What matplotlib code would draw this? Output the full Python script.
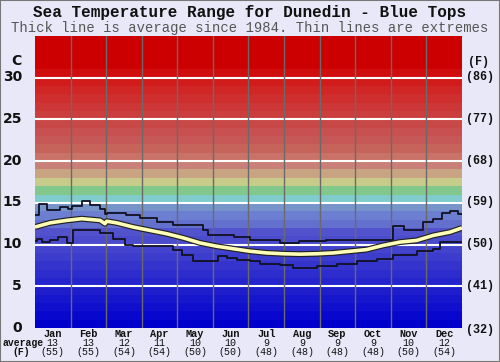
import matplotlib
matplotlib.use("Agg")
import matplotlib.pyplot as plt
from matplotlib.patches import Rectangle
import numpy as np

# ---------------- data ----------------
months = ["Jan", "Feb", "Mar", "Apr", "May", "Jun", "Jul", "Aug", "Sep", "Oct", "Nov", "Dec"]
avg_c = [13, 13, 12, 11, 10, 10, 9, 9, 9, 9, 10, 12]
avg_f = [55, 55, 54, 54, 50, 50, 48, 48, 48, 48, 50, 54]

# maximum line: step start day, temperature (C)
max_day = [0, 3, 10, 21, 28.5, 32, 40, 47, 55.6, 59.8, 61.3, 78, 90, 104, 118, 144, 148,
           170, 184, 209, 226, 249, 275, 306, 315, 332, 340.5, 347.6, 355, 362]
max_temp = [13.5, 14.9, 14.2, 14.5, 14.3, 14.6, 15.2, 14.7, 14.3, 13.7, 13.8, 13.6, 13.2,
            12.7, 12.4, 11.7, 11.2, 10.9, 10.5, 10.2, 10.4, 10.6, 10.5, 12.2, 11.8, 12.7,
            13.1, 13.8, 14.0, 13.7]

# minimum line
min_day = [0, 2, 5.7, 12.8, 19.9, 27.1, 32.2, 38.5, 55.6, 66.9, 76.9, 84, 118.2, 125.3,
           135.3, 156.7, 163.8, 172.4, 183.8, 192.3, 209.4, 220.8, 240.8, 257.9, 275,
           292.1, 306.3, 326.3, 340.5, 346.2]
min_temp = [10.4, 10.7, 10.3, 10.5, 10.9, 10.2, 11.8, 11.7, 11.4, 10.7, 10.0, 9.8, 9.3,
            8.7, 8.0, 8.6, 8.4, 8.1, 8.0, 7.7, 7.5, 7.25, 7.4, 7.7, 8.0, 8.3, 8.7, 9.2,
            9.5, 10.3]

# average line
avg_day = [0, 12.8, 27.1, 39.9, 55.6, 59.8, 61.3, 69.8, 84, 98.3, 112.6, 126.8, 141,
           155.3, 169.5, 183.8, 198, 212.3, 226.5, 240.8, 255, 269.3, 283.5, 297.7, 312,
           326.3, 340.5, 354.8, 365]
avg_temp = [12.1, 12.6, 12.9, 13.1, 12.9, 12.5, 12.8, 12.6, 12.1, 11.7, 11.3, 10.8, 10.2,
            9.8, 9.5, 9.2, 9.0, 8.9, 8.85, 8.9, 9.0, 9.2, 9.4, 9.9, 10.3, 10.5, 11.1,
            11.5, 12.0]

left_ticks = [0, 5, 10, 15, 20, 25, 30]
right_labels = ["(32)", "(41)", "(50)", "(59)", "(68)", "(77)", "(86)"]

# ---------------- style ----------------
band_colors = {}
for i in range(15):
    v = int(7.5 * i)
    band_colors[i] = (v, v, 205)
band_colors[12] = (100, 112, 206)
band_colors[13] = (108, 126, 208)
band_colors[14] = (118, 148, 202)
band_colors.update({
    15: (128, 204, 204), 16: (130, 200, 140), 17: (200, 204, 138), 18: (200, 164, 130),
    19: (200, 128, 120), 20: (200, 114, 104), 21: (198, 100, 92), 22: (198, 88, 88),
    23: (200, 80, 80), 24: (200, 72, 72), 25: (202, 62, 62), 26: (204, 54, 54),
    27: (206, 46, 46), 28: (208, 38, 38), 29: (210, 28, 28), 30: (208, 14, 14),
})
for i in range(31, 35):
    band_colors[i] = (204, 0, 0)

bg = "#e8e8f8"
mono = ["Liberation Mono", "DejaVu Sans Mono"]

fig = plt.figure(figsize=(5, 3.62), dpi=100, facecolor=bg)
ax = fig.add_axes([35 / 500, 1 - 328 / 362, 427 / 500, 292 / 362])
ax.set_xlim(0, 365)
ax.set_ylim(0, 35)

for i in range(35):
    c = tuple(x / 255 for x in band_colors[i])
    ax.axhspan(i, i + 1, color=c, lw=0, zorder=0)

for t in range(5, 35, 5):
    ax.axhline(t, color="white", lw=1.5, zorder=1)

month_edges = np.linspace(0, 365, 13)
for xe in month_edges[1:-1]:
    ax.axvline(xe, color="#6a6a6a", lw=1.0, zorder=1)

ax.step(max_day + [365], max_temp + [max_temp[-1]], where="post", color="#111122", lw=1.3, zorder=3)
ax.step(min_day + [365], min_temp + [min_temp[-1]], where="post", color="#111122", lw=1.3, zorder=3)
ax.plot(avg_day, avg_temp, color="#222222", lw=4.3, zorder=4, solid_capstyle="butt")
ax.plot(avg_day, avg_temp, color="#ffffb8", lw=2.6, zorder=5, solid_capstyle="butt")

for s in ax.spines.values():
    s.set_visible(False)
ax.set_xticks([])
ax.set_yticks([])

# left axis labels
for t in left_ticks:
    y = 1 - (328 - t * 8.37) / 362
    fig.text(22 / 500, y, str(t), ha="right", va="center", fontsize=10, fontweight="bold",
             color="#111111", family="DejaVu Sans")
fig.text(22 / 500, 1 - 61 / 362, "C", ha="right", va="center", fontsize=10, fontweight="bold",
         color="#111111", family="DejaVu Sans")

# right axis labels
for t, lab in zip(left_ticks, right_labels):
    y = 1 - (328 - t * 8.37) / 362
    if t == 0:
        y = 1 - 330 / 362
    fig.text(466 / 500, y, lab, ha="left", va="center", fontsize=8.5, fontweight="bold",
             color="#111111", family=mono)
fig.text(479 / 500, 1 - 62 / 362, "(F)", ha="center", va="center", fontsize=8.5,
         fontweight="bold", color="#111111", family=mono)

# bottom labels
centers = (month_edges[:-1] + month_edges[1:]) / 2
for m, cv, fv, cx in zip(months, avg_c, avg_f, centers):
    px = (35 + cx / 365 * 427) / 500
    fig.text(px, 1 - 334 / 362, m, ha="center", va="center", fontsize=7.4, fontweight="bold",
             color="#111111", family=mono)
    fig.text(px, 1 - 343 / 362, str(cv), ha="center", va="center", fontsize=7.2,
             color="#111111", family=mono)
    fig.text(px, 1 - 352 / 362, "(%d)" % fv, ha="center", va="center", fontsize=7.2,
             color="#111111", family=mono)
fig.text(23 / 500, 1 - 343 / 362, "average", ha="center", va="center", fontsize=7,
         color="#111111", family=mono, fontweight="bold")
fig.text(21 / 500, 1 - 352 / 362, "(F)", ha="center", va="center", fontsize=7,
         color="#111111", family=mono, fontweight="bold")

# titles
fig.text(0.5, 1 - 13 / 362, "Sea Temperature Range for Dunedin - Blue Tops", ha="center",
         va="center", fontsize=11.5, fontweight="bold", color="#111111", family=mono)
fig.text(0.5, 1 - 28 / 362, "Thick line is average since 1984. Thin lines are extremes",
         ha="center", va="center", fontsize=10, color="#555555", family=mono)

fig.patches.append(Rectangle((0, 0), 1, 1, transform=fig.transFigure, fill=False,
                             edgecolor="#777777", lw=1.5))

fig.savefig("out.png", dpi=100, facecolor=bg)
